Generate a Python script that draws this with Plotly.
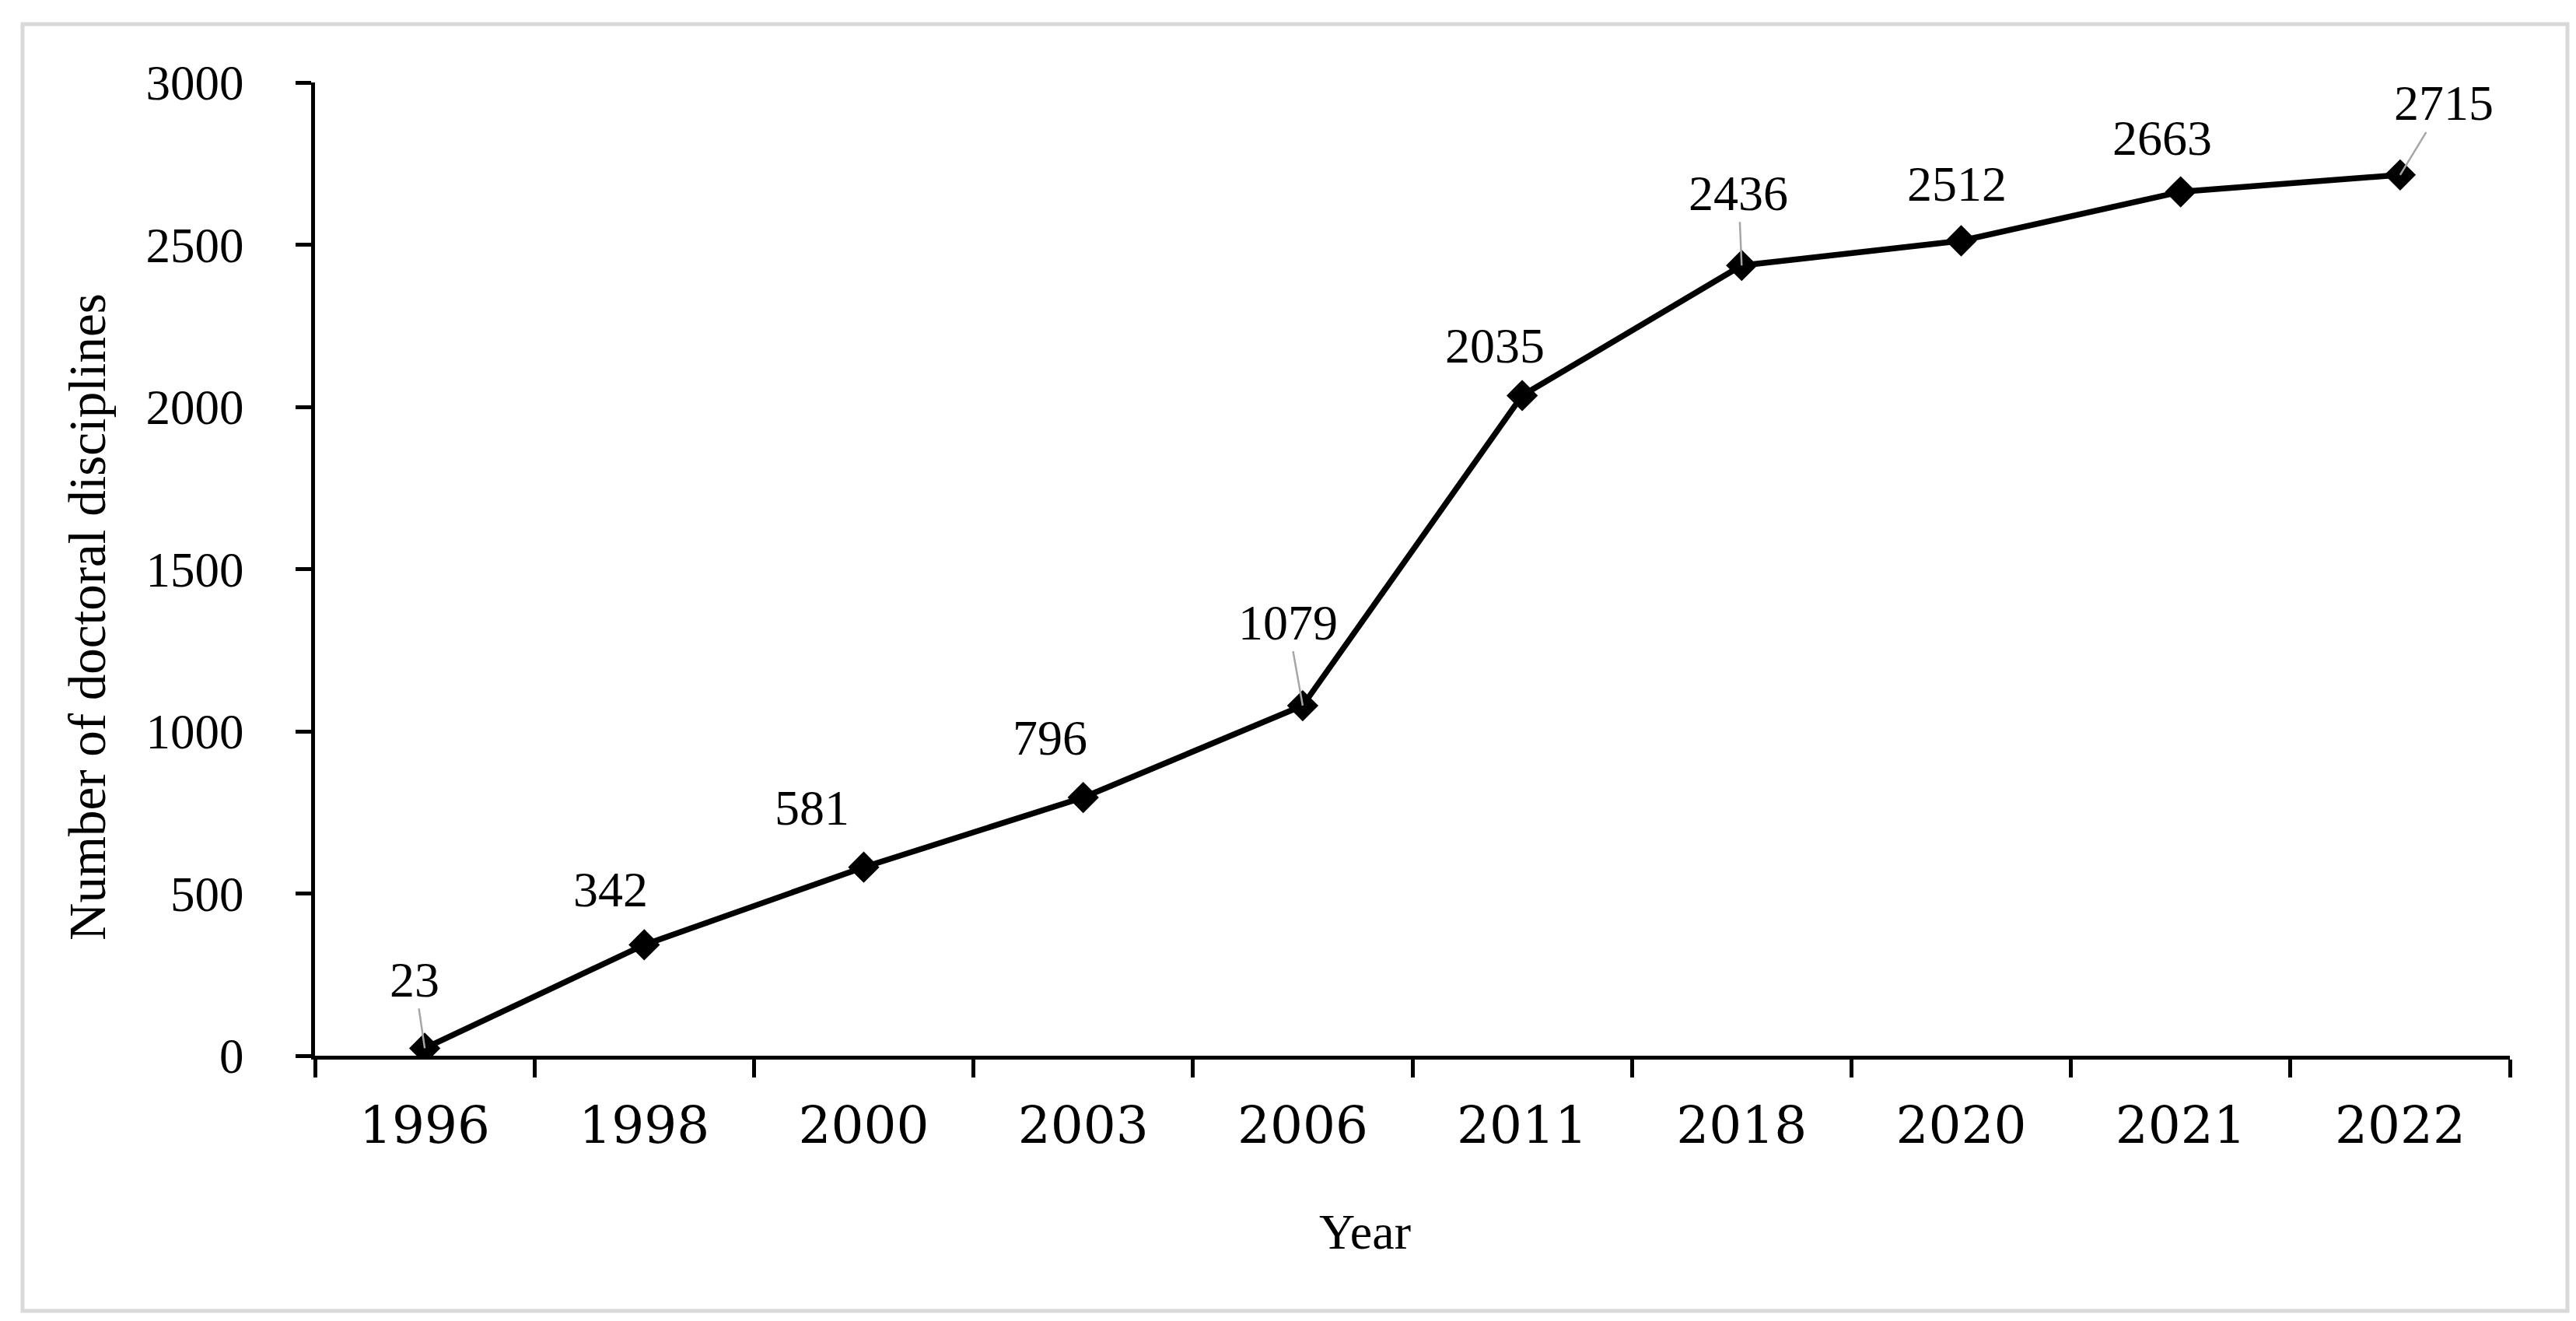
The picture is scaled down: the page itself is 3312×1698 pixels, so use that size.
import plotly.graph_objects as go

# ---- data ----
years = ["1996", "1998", "2000", "2003", "2006", "2011", "2018", "2020", "2021", "2022"]
counts = [23, 342, 581, 796, 1079, 2035, 2436, 2512, 2663, 2715]
y_ticks = [0, 500, 1000, 1500, 2000, 2500, 3000]

# label placement (pixel offsets from each point) and whether a leader line is drawn
label_dx = [-13, -43, -67, -43, -19, -35, -4, -6, -24, 56]
label_dy = [-88, -71, -76, -77, -107, -64, -93, -73, -69, -92]
leader = [True, False, False, False, True, False, True, False, False, True]

W, H = 3312, 1698
L, R, T, B = 397, 3219, 98, 1349  # plot area in pixels

def px_x(p):
    return (p - L) / (R - L)

def px_y(p):
    return (B - p) / (B - T)

SERIF = "Liberation Serif"

fig = go.Figure()
fig.add_trace(go.Scatter(
    x=years, y=counts, mode="lines+markers",
    line=dict(color="black", width=7.5),
    marker=dict(symbol="diamond", size=31, color="black"),
    showlegend=False, hoverinfo="x+y",
))

annotations = []
for i, (v, dx, dy, ld) in enumerate(zip(counts, label_dx, label_dy, leader)):
    # category axis: position by category index
    if ld:
        annotations.append(dict(
            x=i, y=v, xref="x", yref="y", text=str(v),
            showarrow=True, ax=dx, ay=dy, arrowhead=0, arrowwidth=2.5,
            arrowcolor="#a6a6a6", standoff=0,
            font=dict(family=SERIF, size=64, color="black"),
        ))
    else:
        annotations.append(dict(
            x=i, y=v, xref="x", yref="y", text=str(v),
            showarrow=False, xshift=dx, yshift=-dy,
            font=dict(family=SERIF, size=64, color="black"),
        ))

# axis titles
annotations.append(dict(
    text="Year", xref="paper", yref="paper", x=px_x(1747), y=px_y(1576),
    showarrow=False, xanchor="center", yanchor="middle",
    font=dict(family=SERIF, size=64, color="black"),
))
annotations.append(dict(
    text="Number of doctoral disciplines", xref="paper", yref="paper",
    x=px_x(104), y=px_y(785), textangle=-90,
    showarrow=False, xanchor="center", yanchor="middle",
    font=dict(family=SERIF, size=67, color="black"),
))

fig.update_layout(
    width=W, height=H, autosize=False,
    margin=dict(l=L, r=W - R, t=T, b=H - B, pad=0),
    paper_bgcolor="white", plot_bgcolor="white",
    annotations=annotations,
    shapes=[dict(
        type="rect", xref="paper", yref="paper",
        x0=px_x(21), x1=px_x(3293), y0=px_y(1677), y1=px_y(23),
        line=dict(color="#d9d9d9", width=5), layer="below",
    )],
)

fig.update_xaxes(
    type="category", range=[-0.5, len(years) - 0.5],
    tickson="boundaries", ticks="outside", ticklen=23, tickwidth=5, tickcolor="black",
    showline=True, linewidth=5, linecolor="black",
    showgrid=False, zeroline=False, automargin=False,
    tickfont=dict(family="DejaVu Serif", size=66, color="black"),
    ticklabelstandoff=28,
)
fig.update_yaxes(
    range=[0, 3000], tickmode="array", tickvals=y_ticks,
    ticks="outside", ticklen=20, tickwidth=5, tickcolor="black",
    showline=True, linewidth=5, linecolor="black",
    showgrid=False, zeroline=False, automargin=False,
    tickfont=dict(family=SERIF, size=63, color="black"),
    ticklabelstandoff=54,
)

fig.write_html("out.html")
